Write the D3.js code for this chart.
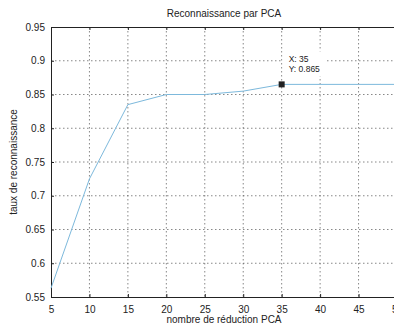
<!DOCTYPE html>
<html>
<head>
<meta charset="utf-8">
<script src="https://cdn.jsdelivr.net/npm/d3@7"></script>
<style>
  body { margin: 0; background: #fff; }
  svg { display: block; font-family: "Liberation Sans", Arial, sans-serif; }
</style>
</head>
<body>
<div class="content"></div>
<script>
const nbReduction = [5, 10, 15, 20, 25, 30, 35, 40, 45, 50];
const tauxReco = [0.563, 0.725, 0.835, 0.85, 0.85, 0.855, 0.865, 0.865, 0.865, 0.865];
const xTicks = [5, 10, 15, 20, 25, 30, 35, 40, 45, 50];
const yTicks = [0.55, 0.6, 0.65, 0.7, 0.75, 0.8, 0.85, 0.9, 0.95];
const tip = {x: 35, y: 0.865};

const [svgWidth, svgHeight] = [394, 326];
const svg = d3.select('.content')
  .append('svg')
  .attr('width', svgWidth)
  .attr('height', svgHeight);

const m = {left: 51, top: 27, right: 397, bottom: 297};
const x = d3.scaleLinear().domain([5, 50]).range([m.left, m.right]);
const y = d3.scaleLinear().domain([0.55, 0.95]).range([m.bottom, m.top]);
const gridColor = '#555';

// grid
svg.append('g')
  .selectAll('line')
  .data(xTicks.slice(1, -1))
  .enter().append('line')
  .attr('x1', d => x(d)).attr('x2', d => x(d))
  .attr('y1', m.top).attr('y2', m.bottom)
  .attr('stroke', gridColor).attr('stroke-width', 0.7)
  .attr('stroke-dasharray', '1.5,2.5');
svg.append('g')
  .selectAll('line')
  .data(yTicks.slice(1, -1))
  .enter().append('line')
  .attr('x1', m.left).attr('x2', m.right)
  .attr('y1', d => y(d)).attr('y2', d => y(d))
  .attr('stroke', gridColor).attr('stroke-width', 0.7)
  .attr('stroke-dasharray', '1.5,2.5');

// axes, ticks inside
const axFont = g => g.selectAll('text')
  .attr('font-size', 10).attr('fill', '#222')
  .attr('font-family', '"Liberation Sans", Arial, sans-serif');
svg.append('g')
  .attr('transform', `translate(0,${m.bottom})`)
  .call(d3.axisBottom(x).tickValues(xTicks).tickSize(-3).tickPadding(9))
  .call(axFont)
  .call(g => g.select('.domain').attr('stroke', '#222'))
  .call(g => g.selectAll('line').attr('stroke', '#222'));
svg.append('g')
  .attr('transform', `translate(0,${m.top})`)
  .call(d3.axisTop(x).tickValues(xTicks).tickSize(-3).tickFormat(''))
  .call(g => g.select('.domain').attr('stroke', '#222'))
  .call(g => g.selectAll('line').attr('stroke', '#222'));
svg.append('g')
  .attr('transform', `translate(${m.left},0)`)
  .call(d3.axisLeft(y).tickValues(yTicks).tickSize(-3).tickPadding(6).tickFormat(d3.format('')))
  .call(axFont)
  .call(g => g.select('.domain').attr('stroke', '#222'))
  .call(g => g.selectAll('line').attr('stroke', '#222'));
svg.append('g')
  .attr('transform', `translate(${m.right},0)`)
  .call(d3.axisRight(y).tickValues(yTicks).tickSize(-3).tickFormat(''))
  .call(g => g.select('.domain').attr('stroke', '#222'))
  .call(g => g.selectAll('line').attr('stroke', '#222'));

// series
const line = d3.line().x((d, i) => x(nbReduction[i])).y(d => y(d));
svg.append('path')
  .datum(tauxReco)
  .attr('fill', 'none')
  .attr('stroke', '#7db9dc')
  .attr('stroke-width', 1)
  .attr('d', line);

// data tip
svg.append('rect')
  .attr('x', x(tip.x) + 1).attr('y', y(tip.y) - 33)
  .attr('width', 44).attr('height', 25)
  .attr('fill', '#fff');
svg.append('rect')
  .attr('x', x(tip.x) - 3).attr('y', y(tip.y) - 3)
  .attr('width', 6).attr('height', 6)
  .attr('fill', '#222');
svg.append('text')
  .attr('x', x(tip.x) + 7).attr('y', y(tip.y) - 22)
  .attr('font-size', 8.5).attr('fill', '#222')
  .text(`X: ${tip.x}`);
svg.append('text')
  .attr('x', x(tip.x) + 7).attr('y', y(tip.y) - 12)
  .attr('font-size', 8.5).attr('fill', '#222')
  .text(`Y: ${tip.y}`);

// labels
svg.append('text')
  .attr('x', 224).attr('y', 17)
  .attr('text-anchor', 'middle')
  .attr('font-size', 10).attr('fill', '#222')
  .text('Reconnaissance par PCA');
svg.append('text')
  .attr('x', 224).attr('y', 323)
  .attr('text-anchor', 'middle')
  .attr('font-size', 10).attr('fill', '#222')
  .text('nombre de réduction PCA');
svg.append('text')
  .attr('transform', `translate(17,${(m.top + m.bottom) / 2}) rotate(-90)`)
  .attr('text-anchor', 'middle')
  .attr('font-size', 10).attr('fill', '#222')
  .text('taux de reconnaissance');
</script>
</body>
</html>
